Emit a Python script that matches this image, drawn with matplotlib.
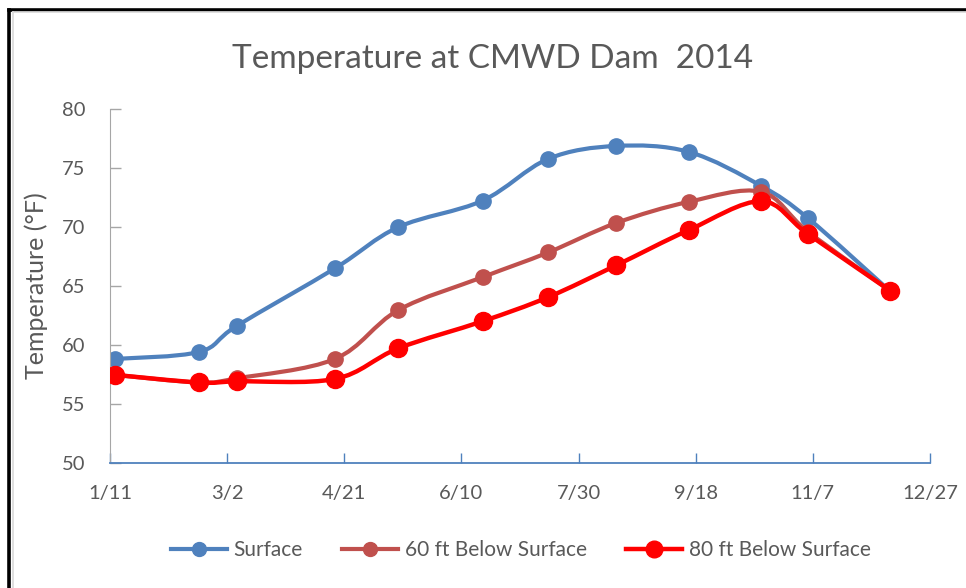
import numpy as np
import matplotlib
matplotlib.use('Agg')
import matplotlib.pyplot as plt
import matplotlib.dates as mdates
from matplotlib.path import Path
from matplotlib.patches import PathPatch
from matplotlib.lines import Line2D
from matplotlib.ticker import FuncFormatter
import datetime as dt

plt.rcParams['font.family'] = ['Lato', 'DejaVu Sans']

## data
dates = ["2014-01-13", "2014-02-18", "2014-03-06", "2014-04-17", "2014-05-14", "2014-06-19",
         "2014-07-17", "2014-08-15", "2014-09-15", "2014-10-16", "2014-11-05", "2014-12-10"]
surface = [58.8, 59.4, 61.6, 66.5, 70.0, 72.25, 75.8, 76.9, 76.4, 73.5, 70.75, 64.55]
ft60 = [57.45, 56.8, 57.15, 58.8, 62.95, 65.75, 67.85, 70.35, 72.15, 73.0, 69.6, 64.6]
ft80 = [57.45, 56.8, 56.9, 57.1, 59.7, 62.0, 64.05, 66.75, 69.75, 72.2, 69.4, 64.6]
labels = ["Surface", "60 ft Below Surface", "80 ft Below Surface"]
colors = ["#4F81BD", "#C0504D", "#FF0000"]

x_start = dt.date(2014, 1, 11)
x_end = dt.date(2014, 12, 27)
tick_step = 50  # days


def smooth_path(x, y):
   # excel style smoothed line: bezier segments through every point
   pts = np.column_stack([x, y])
   n = len(pts)
   verts = [pts[0]]
   codes = [Path.MOVETO]
   for i in range(n - 1):
      p0 = pts[i - 1] if i > 0 else pts[i]
      p1 = pts[i]
      p2 = pts[i + 1]
      p3 = pts[i + 2] if i + 2 < n else pts[i + 1]
      c1 = p1 + (p2 - p0) / 6.0
      c2 = p2 - (p3 - p1) / 6.0
      verts += [c1, c2, p2]
      codes += [Path.CURVE4] * 3
   return Path(verts, codes)


xd = mdates.date2num([dt.date.fromisoformat(d) for d in dates])

fig = plt.figure(figsize=(9.66, 5.88), dpi=100)
ax = fig.add_axes([0.1139, 0.2134, 0.8488, 0.6004])

series = [surface, ft60, ft80]
lws = [3.0, 3.0, 3.2]
msizes = [11, 11, 13]
handles = []
for k in range(3):
   ax.add_patch(PathPatch(smooth_path(xd, series[k]), facecolor='none', edgecolor=colors[k],
                          lw=lws[k], capstyle='round', joinstyle='round', zorder=2 + k))
   ax.plot(xd, series[k], 'o', color=colors[k], ms=msizes[k], mec=colors[k], zorder=2 + k)
   handles.append(Line2D([], [], color=colors[k], lw=lws[k], marker='o', ms=msizes[k] - 1))

ax.set_xlim(mdates.date2num(x_start), mdates.date2num(x_end))
ax.set_ylim(50, 80)
ticks = [mdates.date2num(x_start + dt.timedelta(days=tick_step * i)) for i in range(8)]
ax.set_xticks(ticks)
ax.xaxis.set_major_formatter(FuncFormatter(
   lambda v, p: "{}/{}".format(mdates.num2date(v).month, mdates.num2date(v).day)))
ax.set_yticks(np.arange(50, 81, 5))

for s in ['top', 'right']:
   ax.spines[s].set_visible(False)
ax.spines['left'].set_color('#A6A6A6')
ax.spines['bottom'].set_color('#4F81BD')
ax.spines['bottom'].set_linewidth(1.3)
ax.tick_params(axis='x', direction='in', length=7, width=1, color='#4F81BD',
               labelsize=14.5, labelcolor='#595959', pad=16)
ax.tick_params(axis='y', direction='in', length=8, width=1, color='#A6A6A6',
               labelsize=14.5, labelcolor='#595959', pad=18)
ax.set_ylabel('Temperature (°F)', fontsize=18, color='#595959', labelpad=10)

fig.text(0.51, 0.90, 'Temperature at CMWD Dam  2014', fontsize=24, color='#595959',
         ha='center', va='center')

fig.legend(handles, labels, loc='center', bbox_to_anchor=(0.539, 0.064), ncol=3,
           frameon=False, fontsize=15, labelcolor='#595959', handlelength=2.7,
           handletextpad=0.3, columnspacing=1.9)

# frame round the chart
fig.add_artist(Line2D([0.0098, 0.0098], [0, 0.983], transform=fig.transFigure,
                      color='black', lw=2.6, solid_capstyle='projecting'))
fig.add_artist(Line2D([0.0098, 1.0], [0.983, 0.983], transform=fig.transFigure,
                      color='black', lw=2.6, solid_capstyle='projecting'))
fig.add_artist(Line2D([0.0135, 0.0135], [0, 0.979], transform=fig.transFigure,
                      color='#D9D9D9', lw=1.2))
fig.add_artist(Line2D([0.0135, 1.0], [0.979, 0.979], transform=fig.transFigure,
                      color='#D9D9D9', lw=1.2))

fig.savefig('out.png', dpi=100)
